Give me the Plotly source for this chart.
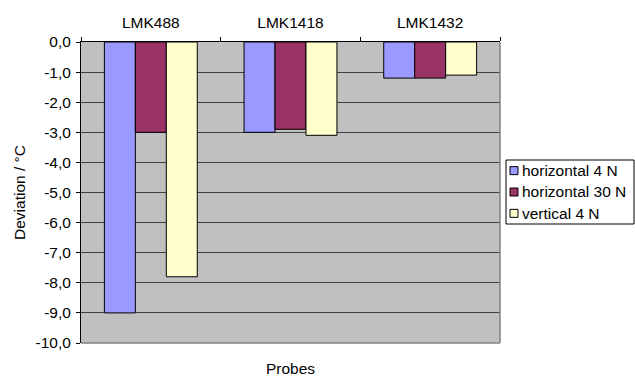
import plotly.graph_objects as go

# Probe deviations per mounting configuration
probes = ["LMK488", "LMK1418", "LMK1432"]
series_names = ["horizontal 4 N", "horizontal 30 N", "vertical 4 N"]
horizontal_4n = [-9.0, -3.0, -1.2]
horizontal_30n = [-3.0, -2.9, -1.2]
vertical_4n = [-7.8, -3.1, -1.1]
series_values = [horizontal_4n, horizontal_30n, vertical_4n]
series_colors = ["#9999FF", "#993366", "#FFFFCC"]

y_ticks = [0, -1, -2, -3, -4, -5, -6, -7, -8, -9, -10]
y_tick_text = [f"{v:.1f}".replace(".", ",") for v in y_ticks]

W, H = 635, 378
ML, MR, MT, MB = 81, 135, 42, 35
PW, PH = W - ML - MR, H - MT - MB
FONT = "Liberation Sans, Arial, sans-serif"
FS = 15.5


def px_x(x):
    return (x - ML) / PW


def px_y(y):
    return 1 - (y - MT) / PH


fig = go.Figure()
for name, vals, col in zip(series_names, series_values, series_colors):
    fig.add_trace(go.Bar(
        x=probes, y=vals, name=name,
        marker=dict(color=col, line=dict(color="black", width=1)),
        showlegend=False,
    ))

shapes = [
    # right and bottom frame of the plot area
    dict(type="line", xref="paper", yref="paper", x0=1, x1=1, y0=0, y1=1,
         line=dict(color="#808080", width=1.5)),
    dict(type="line", xref="paper", yref="paper", x0=0, x1=1, y0=0, y1=0,
         line=dict(color="#808080", width=1.5)),
]
annotations = [
    dict(text="Probes", xref="paper", yref="paper", x=0.5, y=px_y(368),
         xanchor="center", yanchor="middle", showarrow=False,
         font=dict(size=FS, color="black", family=FONT)),
]

# legend box
box_l, box_r, box_t, box_b = 506, 634, 160, 224
shapes.append(dict(type="rect", xref="paper", yref="paper",
                   x0=px_x(box_l), x1=px_x(box_r), y0=px_y(box_b), y1=px_y(box_t),
                   line=dict(color="black", width=1), fillcolor="white"))
row_h = (box_b - box_t) / len(series_names)
for i, (name, col) in enumerate(zip(series_names, series_colors)):
    cy = box_t + row_h * (i + 0.5)
    shapes.append(dict(type="rect", xref="paper", yref="paper",
                       x0=px_x(510), x1=px_x(518), y0=px_y(cy + 4), y1=px_y(cy - 4),
                       line=dict(color="black", width=1), fillcolor=col))
    annotations.append(dict(text=name, xref="paper", yref="paper",
                            x=px_x(520), y=px_y(cy), xanchor="left", yanchor="middle",
                            showarrow=False,
                            font=dict(size=FS, color="black", family=FONT)))

fig.update_layout(
    width=W, height=H,
    margin=dict(l=ML, r=MR, t=MT, b=MB),
    paper_bgcolor="white",
    plot_bgcolor="#C0C0C0",
    barmode="group",
    bargap=0.335,
    bargroupgap=0,
    font=dict(family=FONT, size=FS, color="black"),
    shapes=shapes,
    annotations=annotations,
    xaxis=dict(
        type="category", side="top", range=[-0.5, 2.5],
        showline=True, linecolor="black", linewidth=1,
        ticks="outside", tickson="boundaries", ticklen=4, tickcolor="black",
        showgrid=False, ticklabelstandoff=7,
        tickfont=dict(size=FS),
    ),
    yaxis=dict(
        range=[-10, 0], tickvals=y_ticks, ticktext=y_tick_text,
        showline=True, linecolor="black", linewidth=1,
        ticks="outside", ticklen=4, tickcolor="black",
        showgrid=True, gridcolor="#404040", gridwidth=1,
        zeroline=False, ticklabelstandoff=2,
        tickfont=dict(size=FS),
        title=dict(text="Deviation / °C", standoff=6, font=dict(size=FS)),
    ),
)

fig.write_html("out.html")
